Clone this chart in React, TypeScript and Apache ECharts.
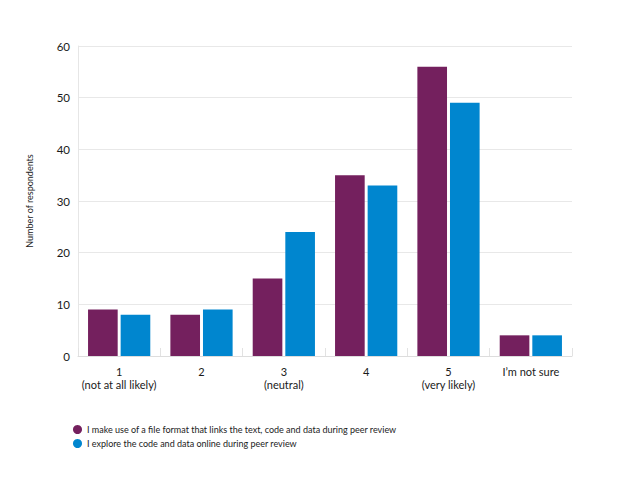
import React, { useEffect, useRef } from "react";
import * as echarts from "echarts";

const categories = ["1\n(not at all likely)", "2", "3\n(neutral)", "4", "5\n(very likely)", "I’m not sure"];
const seriesNames = [
  "I make use of a file format that links the text, code and data during peer review",
  "I explore the code and data online during peer review",
];
const fileFormatValues = [9, 8, 15, 35, 56, 4];
const exploreOnlineValues = [8, 9, 24, 33, 49, 4];
const yTicks = { min: 0, max: 60, interval: 10 };

const PURPLE = "#74205E";
const BLUE = "#0086CF";
const FONT = "Lato, 'Open Sans', sans-serif";

export default function App() {
  const ref = useRef<HTMLDivElement>(null);
  useEffect(() => {
    if (!ref.current) return;
    const chart = echarts.init(ref.current, undefined, { renderer: "svg" });
    chart.setOption({
      animation: false,
      backgroundColor: "#ffffff",
      textStyle: { fontFamily: FONT },
      grid: { left: 78, right: 45, top: 46, bottom: 127 },
      legend: {
        orient: "vertical",
        left: 68,
        top: 420,
        itemWidth: 9,
        itemHeight: 9,
        itemGap: 5,
        icon: "circle",
        textStyle: { fontSize: 9, color: "#222", fontFamily: FONT },
        data: seriesNames,
      },
      xAxis: {
        type: "category",
        data: categories,
        axisLine: { show: true, lineStyle: { color: "#dddddd" } },
        axisTick: { show: true, inside: true, length: 8, lineStyle: { color: "#e2e2e2" } },
        axisLabel: { fontSize: 11, lineHeight: 13, color: "#1a1a1a", margin: 9, fontFamily: FONT, interval: 0 },
      },
      yAxis: {
        type: "value",
        min: yTicks.min,
        max: yTicks.max,
        interval: yTicks.interval,
        name: "Number of respondents",
        nameLocation: "middle",
        nameRotate: 90,
        nameGap: 44,
        nameTextStyle: { fontSize: 9, color: "#222", fontFamily: FONT },
        axisLine: { show: true, lineStyle: { color: "#e6e6e6" } },
        axisTick: { show: false },
        axisLabel: { fontSize: 11.5, color: "#1a1a1a", margin: 8, fontFamily: FONT },
        splitLine: { lineStyle: { color: "#e8e8e8" } },
      },
      series: [
        {
          name: seriesNames[0],
          type: "bar",
          data: fileFormatValues,
          barWidth: "36%",
          barGap: "10%",
          itemStyle: { color: PURPLE },
        },
        {
          name: seriesNames[1],
          type: "bar",
          data: exploreOnlineValues,
          barWidth: "36%",
          barGap: "10%",
          itemStyle: { color: BLUE },
        },
      ],
    });
    return () => chart.dispose();
  }, []);
  return <div ref={ref} style={{ position: "fixed", left: 0, top: 0, width: 617, height: 483 }} />;
}
